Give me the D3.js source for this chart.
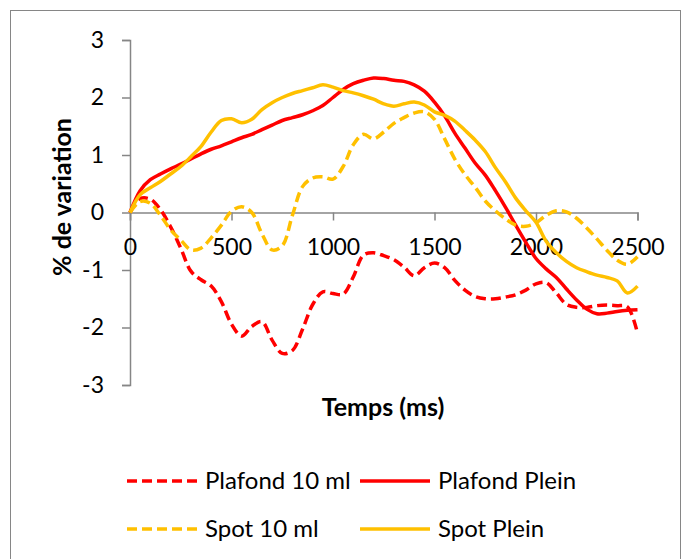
<!DOCTYPE html>
<html>
<head>
<meta charset="utf-8">
<script src="https://cdn.jsdelivr.net/npm/d3@7"></script>
<style>
html, body { margin: 0; padding: 0; background: #fff; }
svg { display: block; }
text { font-family: Lato, "Open Sans", sans-serif; fill: #000; }
</style>
</head>
<body>
<svg id="chart" width="690" height="559"></svg>
<script>
// ---- data ----
const times = [0,50,100,150,200,250,300,350,400,450,500,550,600,650,700,750,800,850,900,950,
  1000,1050,1100,1150,1200,1250,1300,1350,1400,1450,1500,1550,1600,1650,1700,1750,1800,1850,1900,1950,
  2000,2050,2100,2150,2200,2250,2300,2350,2400,2450,2500];

const plafond10 = [0,0.24,0.23,0.05,-0.25,-0.62,-1.02,-1.17,-1.28,-1.55,-1.94,-2.15,-1.98,-1.90,-2.22,-2.45,-2.40,-2.03,-1.60,-1.38,
  -1.41,-1.42,-1.12,-0.74,-0.70,-0.75,-0.82,-0.95,-1.10,-0.96,-0.88,-0.96,-1.18,-1.35,-1.46,-1.50,-1.50,-1.47,-1.43,-1.35,
  -1.24,-1.22,-1.40,-1.60,-1.65,-1.65,-1.62,-1.61,-1.62,-1.64,-2.10];

const plafondPlein = [0,0.38,0.57,0.67,0.76,0.84,0.93,1.02,1.10,1.16,1.23,1.30,1.36,1.44,1.52,1.60,1.65,1.70,1.77,1.86,
  2.00,2.14,2.24,2.30,2.34,2.33,2.30,2.28,2.22,2.11,1.92,1.68,1.38,1.12,0.86,0.65,0.38,0.09,-0.22,-0.52,
  -0.80,-0.98,-1.13,-1.33,-1.52,-1.68,-1.76,-1.75,-1.72,-1.70,-1.69];

const spot10 = [0,0.19,0.16,-0.05,-0.30,-0.48,-0.65,-0.62,-0.44,-0.22,0.02,0.10,0.00,-0.37,-0.65,-0.58,-0.05,0.45,0.60,0.62,
  0.58,0.80,1.18,1.36,1.28,1.40,1.55,1.65,1.73,1.75,1.62,1.28,0.93,0.66,0.44,0.20,0.03,-0.11,-0.22,-0.24,
  -0.18,-0.05,0.03,0.01,-0.10,-0.27,-0.46,-0.66,-0.83,-0.90,-0.77];

const spotPlein = [0,0.31,0.43,0.54,0.67,0.80,0.97,1.15,1.40,1.60,1.63,1.56,1.62,1.79,1.91,2.00,2.07,2.12,2.17,2.22,
  2.18,2.12,2.08,2.03,1.97,1.89,1.85,1.89,1.92,1.87,1.75,1.69,1.59,1.43,1.26,1.06,0.78,0.53,0.25,0.03,
  -0.17,-0.50,-0.70,-0.85,-0.96,-1.03,-1.09,-1.13,-1.19,-1.40,-1.28];

const seriesNames = ["Plafond 10 ml", "Plafond Plein", "Spot 10 ml", "Spot Plein"];
const xTicks = [0, 500, 1000, 1500, 2000, 2500];
const yTicks = [-3, -2, -1, 0, 1, 2, 3];
const xTitle = "Temps (ms)";
const yTitle = "% de variation";

// ---- layout ----
const svg = d3.select("#chart");
const plot = { left: 130, right: 637.5, top: 40, bottom: 385 };
const RED = "#FF0000", GOLD = "#FFC000", AXIS = "#868686";

const series = [
  { name: seriesNames[0], values: plafond10, color: RED, dash: "10,5" },
  { name: seriesNames[1], values: plafondPlein, color: RED, dash: null },
  { name: seriesNames[2], values: spot10, color: GOLD, dash: "10,5" },
  { name: seriesNames[3], values: spotPlein, color: GOLD, dash: null }
];

// chart border
svg.append("rect")
  .attr("x", 10.5).attr("y", 10.5).attr("width", 670).attr("height", 560)
  .attr("fill", "none").attr("stroke", AXIS).attr("stroke-width", 1);

const x = d3.scaleLinear().domain([0, 2500]).range([plot.left, plot.right]);
const y = d3.scaleLinear().domain([-3, 3]).range([plot.bottom, plot.top]);

// y axis
const yAxis = svg.append("g")
  .attr("transform", `translate(${plot.left},0)`)
  .call(d3.axisLeft(y).tickValues(yTicks).tickSize(8).tickPadding(18)
    .tickFormat(d => d < 0 ? "-" + Math.abs(d) : String(d)));
yAxis.select(".domain").attr("stroke", AXIS).attr("stroke-width", 1.5);
yAxis.selectAll(".tick line").attr("stroke", AXIS).attr("stroke-width", 1.5);
yAxis.selectAll(".tick text").attr("font-size", 23).attr("font-family", "Lato").attr("fill", "#000");

// x axis at y=0
const xAxis = svg.append("g")
  .attr("transform", `translate(0,${y(0)})`)
  .call(d3.axisBottom(x).tickValues(xTicks).tickSize(8).tickSizeOuter(8).tickPadding(18)
    .tickFormat(d3.format("d")));
xAxis.select(".domain").attr("stroke", AXIS).attr("stroke-width", 1.5);
xAxis.selectAll(".tick line").attr("stroke", AXIS).attr("stroke-width", 1.5);
xAxis.selectAll(".tick text").attr("font-size", 23).attr("font-family", "Lato").attr("fill", "#000");

// axis titles
svg.append("text")
  .attr("x", 383).attr("y", 416)
  .attr("text-anchor", "middle").attr("font-size", 25).attr("font-weight", "bold")
  .text(xTitle);
svg.append("text")
  .attr("transform", "translate(71,197) rotate(-90)")
  .attr("text-anchor", "middle").attr("font-size", 25).attr("font-weight", "bold")
  .text(yTitle);

// lines
const line = d3.line()
  .x((d, i) => x(times[i]))
  .y(d => y(d))
  .curve(d3.curveCatmullRom.alpha(0.5));

series.forEach(s => {
  svg.append("path")
    .datum(s.values)
    .attr("d", line)
    .attr("fill", "none")
    .attr("stroke", s.color)
    .attr("stroke-width", 3.5)
    .attr("stroke-dasharray", s.dash)
    .attr("stroke-linejoin", "round");
});

// legend
const legendPos = [
  { lx: 127, tx: 205, y: 481 },
  { lx: 360, tx: 438, y: 481 },
  { lx: 127, tx: 205, y: 529 },
  { lx: 360, tx: 438, y: 529 }
];
series.forEach((s, i) => {
  const p = legendPos[i];
  svg.append("line")
    .attr("x1", p.lx).attr("x2", p.lx + 70)
    .attr("y1", p.y).attr("y2", p.y)
    .attr("stroke", s.color).attr("stroke-width", 3.5)
    .attr("stroke-dasharray", s.dash);
  svg.append("text")
    .attr("x", p.tx).attr("y", p.y + 8)
    .attr("font-size", 24)
    .text(s.name);
});
</script>
</body>
</html>
